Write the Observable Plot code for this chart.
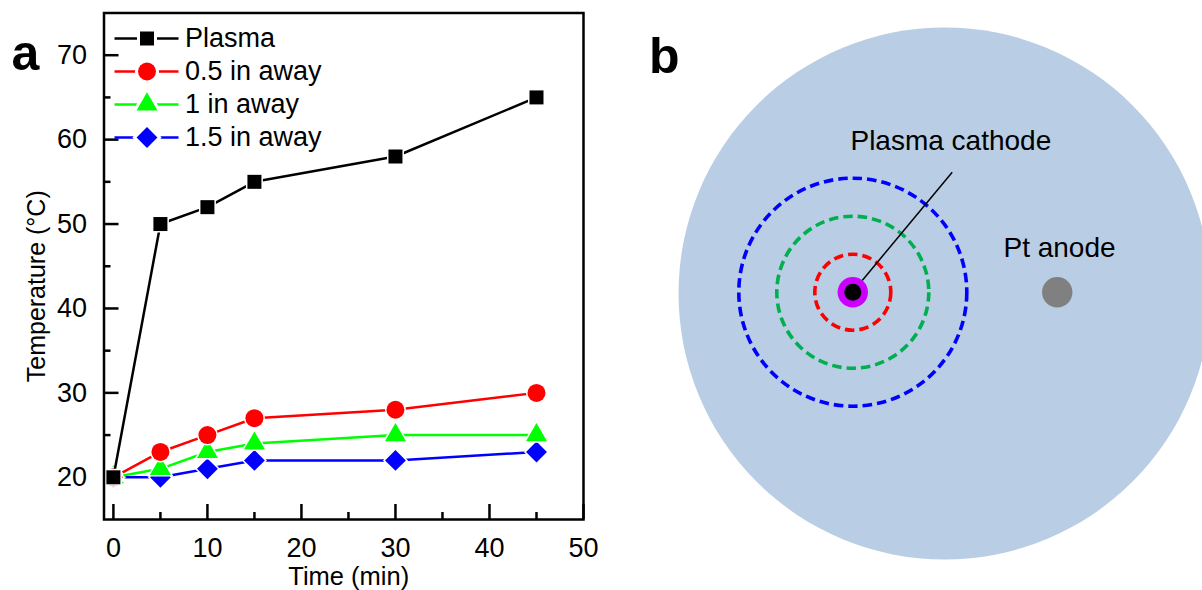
<!DOCTYPE html>
<html><head><meta charset="utf-8">
<script src="https://cdn.jsdelivr.net/npm/d3@7"></script>
<script src="https://cdn.jsdelivr.net/npm/@observablehq/plot@0.6"></script>
<style>
html,body{margin:0;padding:0;background:#fff;overflow:hidden}
#root{position:relative;width:1202px;height:590px;display:flex}
#pa{position:relative;width:610px;height:590px;flex:none}
#pb{position:relative;width:592px;height:590px;flex:none}
#legend{position:absolute;left:103.5px;top:12.5px;width:260px;height:150px}
#legend svg{max-width:none;width:260px;height:150px}
svg{display:block}
</style></head><body>
<div id="root"><div id="pa"><div id="legend"></div></div><div id="pb"></div></div>
<script>
// ---------- Panel a data ----------
const times = [0, 5, 10, 15, 30, 45];
const plasmaTemp = [20, 50, 52, 55, 58, 65];
const away05Temp = [20, 23, 25, 27, 28, 30];
const away1Temp  = [20, 21, 23, 24, 25, 25];
const away15Temp = [20, 20, 21, 22, 22, 23];
const seriesNames = ["Plasma", "0.5 in away", "1 in away", "1.5 in away"];
const seriesColors = ["#000000", "#ff0000", "#00ff00", "#0000ff"];
const seriesSymbols = ["square", "circle", "triangle", "diamond2"];
const seriesMarkerR = [7.9, 9, 7.8, 9.4];
const xTicks = [0, 10, 20, 30, 40, 50];
const xMinorTicks = [5, 15, 25, 35, 45];
const yTicks = [20, 30, 40, 50, 60, 70];
const yMinorTicks = [25, 35, 45, 55, 65];

// ---------- Panel b data (inches from the cathode) ----------
const ringDistances = [1.5, 1, 0.5];
const ringColors = ["#0000ff", "#00b050", "#ff0000"];
const dish = [{x: 1.207, y: -0.017, r: 3.5}];
const cathode = [{x: 0, y: 0}];
const anode = [{x: 2.69, y: 0}];
const leader = [{x1: 0.124, y1: 0.154, x2: 1.308, y2: 1.579}];
const diagramLabels = [
  {text: "Plasma cathode", x: 1.29, y: 1.987},
  {text: "Pt anode", x: 2.72, y: 0.58}
];

const seriesValues = [plasmaTemp, away05Temp, away1Temp, away15Temp];
const series = seriesNames.map((name, i) => ({
  name, color: seriesColors[i], symbol: seriesSymbols[i], r: seriesMarkerR[i],
  rows: times.map((t, j) => ({t, v: seriesValues[i][j], name}))
}));

const FONT = "'Liberation Sans', Arial, Helvetica, sans-serif";
const W = 610, H = 590, mL = 103.5, mR = 27, mT = 12.5, mB = 71;
const plotW = W - mL - mR, plotH = H - mT - mB;

const dataMarks = [];
for (const s of series.slice().reverse()) {
  dataMarks.push(Plot.line(s.rows, {x: "t", y: "v", stroke: s.color, strokeWidth: 2.5}));
  dataMarks.push(Plot.dot(s.rows, {x: "t", y: "v", symbol: s.symbol, r: s.r, fill: s.color,
    stroke: "white", strokeWidth: 3, paintOrder: "stroke"}));
}

const chartA = Plot.plot({
  width: W, height: H,
  marginLeft: mL, marginRight: mR, marginTop: mT, marginBottom: mB,
  style: {fontFamily: FONT, fontSize: "27px", color: "#000", background: "white"},
  x: {domain: [-1, 50]},
  y: {domain: [15, 75]},
  marks: [
    Plot.tickX(xTicks, {x: d => d, insetTop: plotH - 15, strokeWidth: 2.5}),
    Plot.tickX(xMinorTicks, {x: d => d, insetTop: plotH - 7, strokeWidth: 2.5}),
    Plot.tickY(yTicks, {y: d => d, insetRight: plotW - 15, strokeWidth: 2.5}),
    Plot.tickY(yMinorTicks, {y: d => d, insetRight: plotW - 7, strokeWidth: 2.5}),
    Plot.axisX({ticks: xTicks, tickSize: 0, tickPadding: 18, label: null}),
    Plot.axisY({ticks: yTicks, tickSize: 0, tickPadding: 17, label: null}),
    ...dataMarks,
    Plot.frame({stroke: "#000", strokeWidth: 2.5}),
    Plot.text(["Time (min)"], {frameAnchor: "bottom", textAnchor: "middle", lineAnchor: "middle", dx: 5, dy: 57.5, fontSize: 25.5}),
    Plot.text(["Temperature (°C)"], {frameAnchor: "left", textAnchor: "middle", lineAnchor: "middle", dx: -67, dy: 20, rotate: -90, fontSize: 25}),
    Plot.text(["a"], {frameAnchor: "top-left", textAnchor: "start", lineAnchor: "middle", dx: -92.5, dy: 41, fontSize: 50, fontWeight: "bold"})
  ]
});
document.getElementById("pa").prepend(chartA);

// legend overlay
const legendMarks = [
  Plot.ruleY(series, {y: "name", x1: () => 0, x2: () => 1, stroke: "color", strokeWidth: 2.5})
];
for (const s of series) {
  legendMarks.push(Plot.dot([s], {x: () => 0.5, y: "name", symbol: s.symbol, r: s.r, fill: s.color,
    stroke: "white", strokeWidth: 6, paintOrder: "stroke"}));
}
legendMarks.push(Plot.text(series, {x: () => 1, y: "name", text: "name", textAnchor: "start", lineAnchor: "middle", dx: 6, fill: "#000"}));
const legend = Plot.plot({
  width: 260, height: 150, margin: 0,
  style: {fontFamily: FONT, fontSize: "27px", background: "transparent", color: "#000"},
  x: {domain: [0, 1], range: [10.5, 74.5], axis: null},
  y: {type: "point", domain: seriesNames, range: [24.2, 124.2], padding: 0, axis: null},
  marks: legendMarks
});
document.getElementById("legend").append(legend);

// ---------- Panel b ----------
const PX_PER_IN = 76;
const cx0 = 852.3 - 610, cy0 = 291.7;
const rings = ringDistances.map((d, i) => ({x: 0, y: 0, r: d, color: ringColors[i]}));
const chartB = Plot.plot({
  width: 592, height: 590, margin: 0,
  style: {fontFamily: FONT, fontSize: "28px", background: "white", color: "#000"},
  x: {domain: [0, 1], range: [cx0, cx0 + PX_PER_IN], axis: null},
  y: {domain: [0, 1], range: [cy0, cy0 - PX_PER_IN], axis: null},
  r: {type: "linear", domain: [0, 1], range: [0, PX_PER_IN]},
  marks: [
    Plot.dot(dish, {x: "x", y: "y", r: "r", fill: "#b9cde5"}),
    Plot.dot(rings, {x: "x", y: "y", r: "r", stroke: "color", fill: "none", strokeWidth: 3.6, strokeDasharray: "9.5,5"}),
    Plot.link(leader, {x1: "x1", y1: "y1", x2: "x2", y2: "y2", stroke: "#000", strokeWidth: 1.5}),
    Plot.dot(cathode, {x: "x", y: "y", r: () => 0.2, fill: "#cc00ff"}),
    Plot.dot(cathode, {x: "x", y: "y", r: () => 0.112, fill: "#000"}),
    Plot.dot(anode, {x: "x", y: "y", r: () => 0.2, fill: "#808080"}),
    Plot.text(diagramLabels, {x: "x", y: "y", text: "text", fill: "#000", fontSize: 28, lineAnchor: "middle"}),
    Plot.text(["b"], {frameAnchor: "top-left", textAnchor: "start", lineAnchor: "middle", dx: 38.5, dy: 56, fontSize: 50, fontWeight: "bold"})
  ]
});
document.getElementById("pb").append(chartB);
</script>
</body></html>
